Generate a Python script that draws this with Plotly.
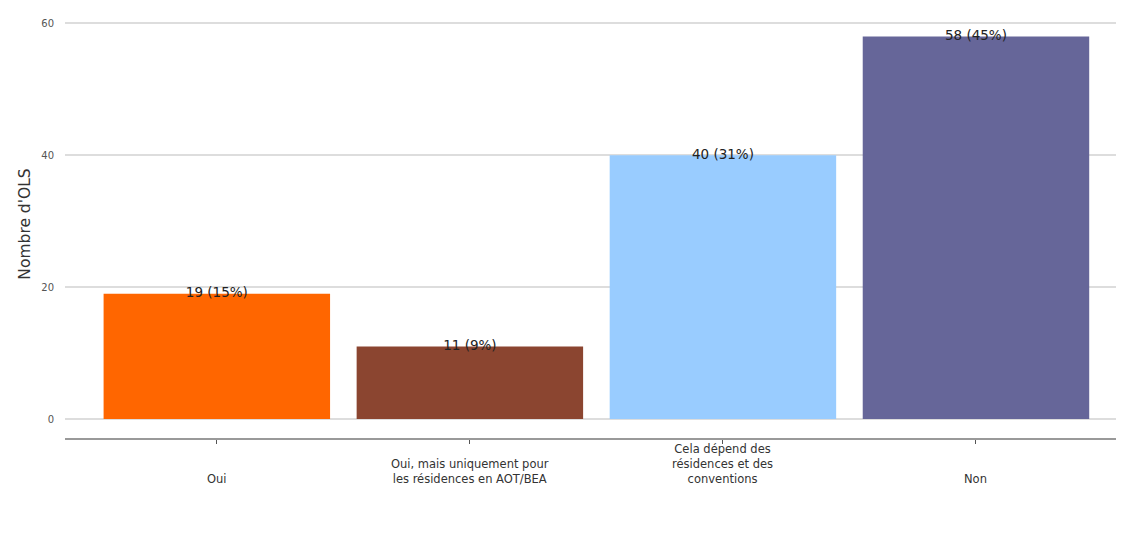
import plotly.graph_objects as go

categories = ["Oui", "Oui, mais uniquement pour<br>les résidences en AOT/BEA",
              "Cela dépend des<br>résidences et des<br>conventions", "Non"]
values = [19, 11, 40, 58]
percents = [15, 9, 31, 45]
colors = ["#FF6600", "#8B4530", "#99CCFF", "#666699"]
y_ticks = [0, 20, 40, 60]

labels = [f"{v} ({p}%)" for v, p in zip(values, percents)]
xs = list(range(len(categories)))
FONT = "DejaVu Sans, Liberation Sans, Arial"

fig = go.Figure()
fig.add_trace(go.Bar(x=xs, y=values, marker=dict(color=colors, line=dict(width=0)),
                     width=0.895, hoverinfo="skip"))
fig.add_trace(go.Scatter(x=xs, y=values, mode="text", text=labels,
                         textposition="middle center",
                         textfont=dict(family=FONT, size=13.5, color="#222222"),
                         cliponaxis=False, hoverinfo="skip"))

for x, c in zip(xs, categories):
    fig.add_annotation(x=x, y=0, xref="x", yref="paper", yshift=-50, text=c,
                       showarrow=False, yanchor="bottom", xanchor="center",
                       font=dict(family=FONT, size=11.5, color="#333333"))

fig.update_layout(
    width=1120, height=526,
    margin=dict(l=57, r=4, t=2, b=96),
    plot_bgcolor="white", paper_bgcolor="white",
    showlegend=False,
    xaxis=dict(range=[-0.6, 3.585], tickvals=xs, ticktext=[""] * len(xs),
               showgrid=False, zeroline=False, showline=True, linecolor="#999999",
               linewidth=1.5, ticks="outside", ticklen=4, tickcolor="#555555"),
    yaxis=dict(range=[-2.88, 62], tickvals=y_ticks, showgrid=True, gridcolor="#DDDDDD",
               gridwidth=1.5, zeroline=False, showline=False,
               tickfont=dict(family=FONT, size=10, color="#555555"),
               ticklabelstandoff=10,
               title=dict(text="Nombre d'OLS", standoff=6,
                          font=dict(family=FONT, size=15.5, color="#333333"))),
)

fig.write_html("out.html")
